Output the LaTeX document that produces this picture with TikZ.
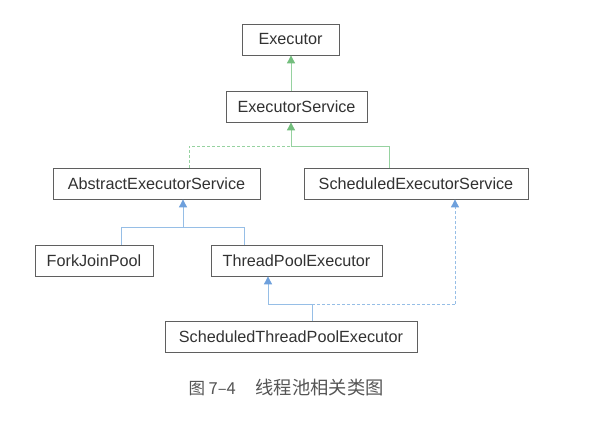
\documentclass[tikz,border=0pt]{standalone}
\usepackage{fontspec}
\setmainfont{Liberation Sans}
\newfontfamily\cjk{Noto Sans CJK SC}
\usetikzlibrary{arrows.meta}
\definecolor{boxline}{RGB}{95,95,95}
\definecolor{txt}{RGB}{50,50,50}
\definecolor{grn}{RGB}{150,210,160}
\definecolor{grnd}{RGB}{115,190,125}
\definecolor{blu}{RGB}{150,190,230}
\definecolor{blud}{RGB}{110,160,220}
\definecolor{cap}{RGB}{85,85,85}
\tikzset{
  cls/.style={draw=boxline, line width=0.8pt, rectangle, inner sep=0pt, text=txt, font=\fontsize{16.2}{18}\selectfont},
  gline/.style={draw=grn, line width=0.9pt},
  bline/.style={draw=blu, line width=0.9pt},
  gtip/.style={-{Triangle[width=8pt,length=8pt,fill=grnd,color=grnd]}},
  btip/.style={-{Triangle[width=8pt,length=8pt,fill=blud,color=blud]}},
  dsh/.style={dash pattern=on 3pt off 2pt},
}
\begin{document}
\begin{tikzpicture}[x=1pt,y=-1pt]
\useasboundingbox (0,0) rectangle (599,420);
\fill[white] (0,0) rectangle (599,420);
% nodes
\node[cls, minimum width=97pt, minimum height=31pt] (ex) at (290.5,39.5) {Executor};
\node[cls, minimum width=141pt, minimum height=31pt] (es) at (296.5,106.5) {ExecutorService};
\node[cls, minimum width=207pt, minimum height=31pt] (aes) at (156.5,183.5) {AbstractExecutorService};
\node[cls, minimum width=224pt, minimum height=31pt] (ses) at (416,183.5) {ScheduledExecutorService};
\node[cls, minimum width=118pt, minimum height=31pt] (fjp) at (94,260.5) {ForkJoinPool};
\node[cls, minimum width=171pt, minimum height=31pt] (tpe) at (296.5,260.5) {ThreadPoolExecutor};
\node[cls, minimum width=252pt, minimum height=31pt] (stpe) at (291,337) {ScheduledThreadPoolExecutor};
\node[font=\cjk\fontsize{16.5}{18}\selectfont, text=cap, anchor=west] (cap) at (185,388) {图 7–4\hspace{1.2em}{\fontsize{18.3}{20}\selectfont 线程池相关类图}};
% junction coordinates
\coordinate (j1) at (291,146);
\coordinate (j2) at (183,227);
\coordinate (j3) at (268,304);
\coordinate (j4) at (312,304);
\coordinate (j5) at (455,304);
% Executor <- ExecutorService
\draw[gline, gtip] (es.north -| j1) -- (ex.south -| j1);
% ExecutorService <- AbstractExecutorService (dashed), ScheduledExecutorService (solid)
\draw[gline, dsh] (aes.north -| 189,0) |- (j1);
\draw[gline] (ses.north -| 389,0) |- (j1);
\draw[gline, gtip] (j1) -- (es.south -| j1);
% AbstractExecutorService <- ForkJoinPool, ThreadPoolExecutor
\draw[bline] (fjp.north -| 121,0) |- (j2);
\draw[bline] (tpe.north -| 244,0) |- (j2);
\draw[bline, btip] (j2) -- (aes.south -| j2);
% ThreadPoolExecutor <- ScheduledThreadPoolExecutor
\draw[bline] (stpe.north -| j4) -- (j4) -- (j3);
\draw[bline, btip] (j3) -- (tpe.south -| j3);
% ScheduledExecutorService <- ScheduledThreadPoolExecutor (dashed)
\draw[bline, dsh] (j4) -- (j5);
\draw[bline, dsh, btip] (j5) -- (ses.south -| j5);
\end{tikzpicture}
\end{document}
